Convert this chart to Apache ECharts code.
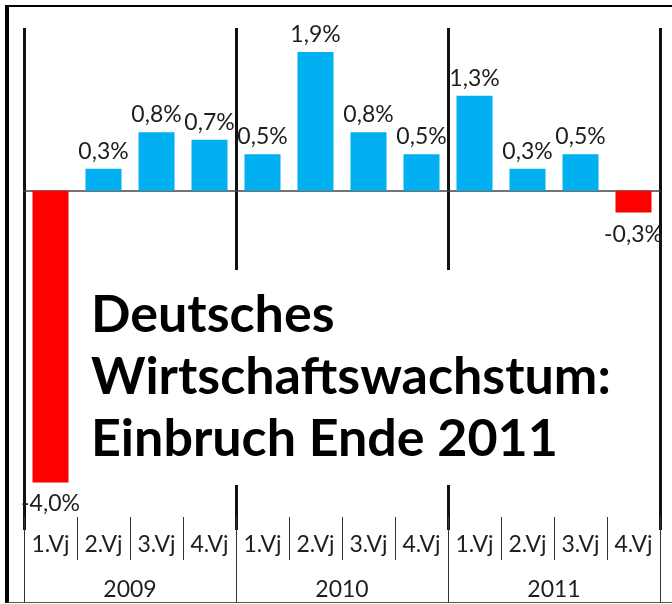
<!DOCTYPE html>
<html>
<head>
<meta charset="utf-8">
<script src="https://cdn.jsdelivr.net/npm/echarts@6/dist/echarts.min.js"></script>
<style>
  html, body { margin: 0; padding: 0; background: #fff; }
  #chart { position: absolute; left: 0; top: 0; width: 672px; height: 604px; }
  #frame {
    position: absolute; left: 5px; top: 5px; width: 667px; height: 598px;
    box-sizing: border-box; pointer-events: none;
    border-left: 4px solid #000; border-top: 2px solid #000; border-bottom: 1px solid #555;
  }
</style>
</head>
<body>
<div id="chart"></div>
<div id="frame"></div>
<script>
  var years = ['2009', '2010', '2011'];
  var quarters = ['1.Vj', '2.Vj', '3.Vj', '4.Vj'];
  // Wachstum gegenüber Vorquartal in %
  var growth = [-4.0, 0.3, 0.8, 0.7, 0.5, 1.9, 0.8, 0.5, 1.3, 0.3, 0.5, -0.3];
  var titleLines = ['Deutsches', 'Wirtschaftswachstum:', 'Einbruch Ende 2011'];

  var font = 'Lato';
  var textColor = '#1e1e1e';

  var keys = [];
  var quarterLabels = [];
  years.forEach(function (y) {
    quarters.forEach(function (q) {
      keys.push(y + ' ' + q);
      quarterLabels.push(q);
    });
  });

  var bars = growth.map(function (v) {
    var neg = v < 0;
    return {
      value: v,
      itemStyle: { color: neg ? '#FF0000' : '#00B0F0' },
      label: { position: neg ? 'bottom' : 'top', distance: neg ? 10 : 6 }
    };
  });

  var myChart = echarts.init(document.getElementById('chart'), null, { renderer: 'canvas' });

  var option = {
    animation: false,
    title: {
      text: titleLines.join('\n'),
      left: 78,
      top: 270,
      padding: [14, 13, 15, 13],
      backgroundColor: '#fff',
      textStyle: {
        fontFamily: font,
        fontWeight: 'bold',
        fontSize: 52,
        lineHeight: 62,
        color: '#000'
      }
    },
    grid: { left: 24, right: 12, top: 28, bottom: 74 },
    xAxis: [
      {
        type: 'category',
        data: keys,
        axisLine: { onZero: true, lineStyle: { color: '#444', width: 1.5 } },
        axisTick: { interval: 0, length: 5, lineStyle: { color: '#444', width: 1 } },
        axisLabel: { show: false },
        splitLine: {
          show: true,
          interval: function (i) { return i % 4 === 0; },
          lineStyle: { color: '#111', width: 3 }
        }
      },
      {
        type: 'category',
        data: quarterLabels,
        position: 'bottom',
        offset: 30,
        axisLine: { show: false, onZero: false },
        axisTick: { show: true, interval: 0, inside: true, length: 43, lineStyle: { color: '#333', width: 1 } },
        axisLabel: {
          interval: 0, inside: true, margin: 4,
          fontFamily: font, fontSize: 23, lineHeight: 23, color: textColor
        }
      },
      {
        type: 'category',
        data: years,
        position: 'bottom',
        offset: 72,
        axisLine: { show: false, onZero: false },
        axisTick: { show: true, interval: 0, inside: true, length: 72, lineStyle: { color: '#333', width: 1 } },
        axisLabel: {
          interval: 0, inside: true, margin: 1,
          fontFamily: font, fontSize: 23, lineHeight: 23, color: textColor
        }
      }
    ],
    yAxis: {
      type: 'value',
      min: -4.65,
      max: 2.23,
      show: false,
      splitLine: { show: false }
    },
    series: [
      {
        type: 'bar',
        xAxisIndex: 0,
        barWidth: 36,
        data: bars,
        label: {
          show: true,
          fontFamily: font,
          fontSize: 23,
          color: textColor,
          formatter: function (p) {
            return p.value.toFixed(1).replace('.', ',') + '%';
          }
        }
      }
    ]
  };

  myChart.setOption(option);
</script>
</body>
</html>
